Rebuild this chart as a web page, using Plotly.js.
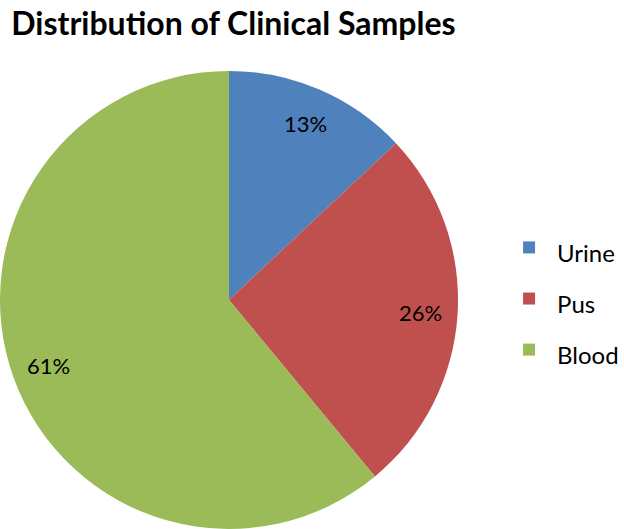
<!DOCTYPE html>
<html>
<head>
<meta charset="utf-8">
<script src="https://cdn.plot.ly/plotly-3.0.1.min.js"></script>
<style>
  body { margin: 0; background: #fff; }
  #chart { width: 624px; height: 529px; }
</style>
</head>
<body>
<div id="chart"></div>
<script>
// sample types and their share (%)
const sampleTypes = ['Urine', 'Pus', 'Blood'];
const sharePct = [13, 26, 61];
const sliceColors = ['#4F81BD', '#C0504D', '#9BBB59'];

const W = 624, H = 529;
const pieDomain = { x: [0, 0.734], y: [0, 0.866] };
const R = Math.min(pieDomain.x[1] * W, pieDomain.y[1] * H) / 2;
const cx = R / W, cy = R / H;

// percent labels sit near the rim, like the Excel original
const total = sharePct.reduce((a, b) => a + b, 0);
let cum = 0;
const pctLabels = sharePct.map(v => {
  const mid = (cum + v / 2) / total * 2 * Math.PI;
  cum += v;
  const f = 0.84;
  return {
    text: v + '%',
    xref: 'paper', yref: 'paper',
    x: cx + R * f * Math.sin(mid) / W,
    y: cy + R * f * Math.cos(mid) / H,
    xanchor: 'center', yanchor: 'middle',
    showarrow: false,
    font: { family: 'Lato, sans-serif', size: 22, color: '#000' }
  };
});

const pieTrace = {
  type: 'pie',
  labels: sampleTypes.map(s => '<span style="font-size:24px">' + s + '</span>'),
  values: sharePct,
  sort: false,
  direction: 'clockwise',
  rotation: 0,
  marker: { colors: sliceColors, line: { width: 0 } },
  textinfo: 'none',
  hoverinfo: 'label+percent',
  domain: pieDomain
};

const layout = {
  width: W,
  height: H,
  margin: { l: 0, r: 0, t: 0, b: 0, autoexpand: false },
  paper_bgcolor: '#fff',
  title: {
    text: '<b>Distribution of Clinical Samples</b>',
    font: { family: 'Lato, sans-serif', size: 32, color: '#000' },
    x: 0.018, xanchor: 'left',
    y: 0.955, yanchor: 'middle'
  },
  annotations: pctLabels,
  showlegend: true,
  legend: {
    x: 0.803, xanchor: 'left',
    y: 0.435, yanchor: 'middle',
    itemwidth: 46,
    font: { family: 'Lato, sans-serif', size: 37, color: '#000' },
    bgcolor: 'rgba(0,0,0,0)'
  }
};

Plotly.newPlot('chart', [pieTrace], layout, { displayModeBar: false });
</script>
</body>
</html>
